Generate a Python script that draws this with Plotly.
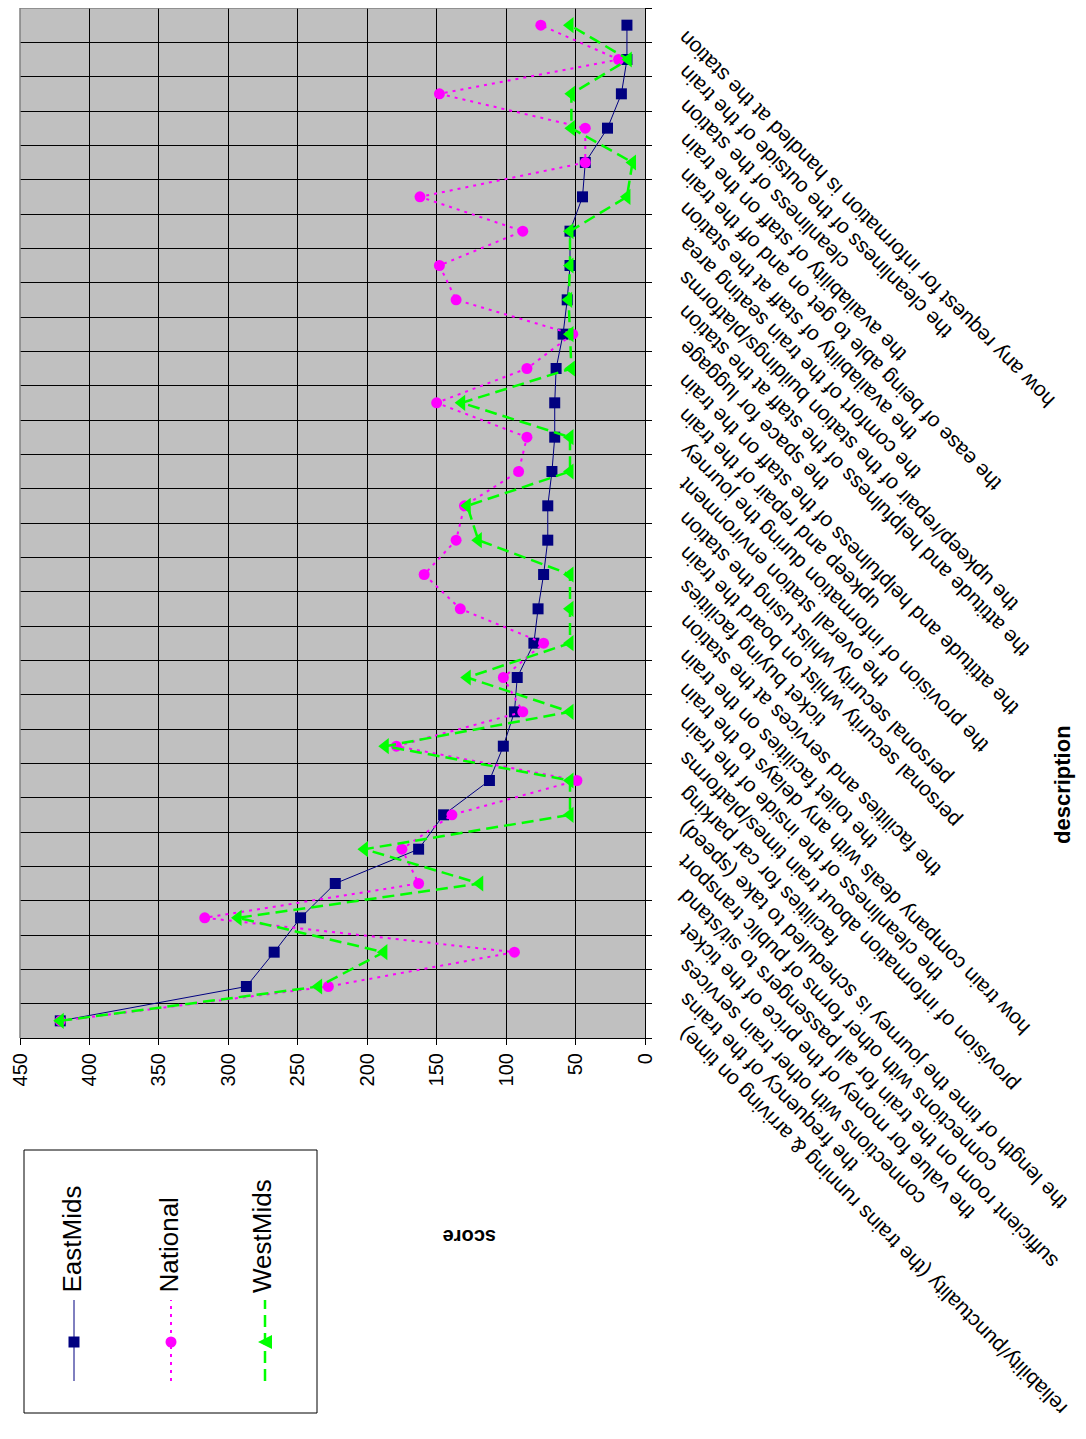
import plotly.graph_objects as go

# ---------------- data ----------------
categories = [
    "reliability/punctuality (the trains running & arriving on time)",
    "the frequency of the trains",
    "connections with other train services",
    "the value for money of the price of the ticket",
    "sufficient room on the train for all passengers to sit/stand",
    "connections with other forms of public transport",
    "the length of time the journey is scheduled to take (speed)",
    "facilities for car parking",
    "provision of information about train times/platforms",
    "the cleanliness of the inside of the train",
    "how train company deals with any delays to the train",
    "the toilet facilities on the train",
    "the facilities and services at the station",
    "ticket buying facilities",
    "personal security whilst on board the train",
    "personal security whilst using the station",
    "the overall station environment",
    "the provision of information during the journey",
    "upkeep and repair of the train",
    "the attitude and helpfulness of the staff on the train",
    "the space for luggage",
    "the attitude and helpfulness of the staff at the station",
    "the upkeep/repair of the station buildings/platforms",
    "the comfort of the train seating area",
    "the availability of staff at the station",
    "the ease of being able to get on and off the train",
    "the availability of staff on the train",
    "cleanliness of the station",
    "the cleanliness of the outside of the train",
    "how any request for information is handled at the station",
]
eastmids = [421, 287, 267, 248, 223, 163, 145, 112, 102, 94, 92, 80, 77, 73, 70,
            70, 67, 65, 65, 64, 59, 56, 54, 54, 45, 43, 27, 17, 13, 13]
national = [421, 228, 94, 317, 163, 175, 139, 49, 179, 88, 102, 73, 133, 159, 136,
            130, 91, 85, 150, 85, 52, 136, 148, 88, 162, 43, 43, 148, 19, 75]
westmids = [421, 235, 188, 293, 119, 202, 54, 54, 187, 54, 128, 54, 54, 54, 120,
            128, 54, 54, 132, 53, 54, 55, 54, 54, 13, 9, 53, 53, 12, 54]
score_ticks = [0, 50, 100, 150, 200, 250, 300, 350, 400, 450]
series_names = ["EastMids", "National", "WestMids"]

# ---------------- layout geometry (page pixels; page has an 8px body margin) ----------------
OFF = 8
W, H = 1086 - OFF, 1439 - OFF
PL, PR, PT, PB = 20, 645, 8, 1038          # plot area edges in page pixels
FONT = "Arial, Liberation Sans, sans-serif"


def px2x(px):
    return (px - PL) / (PR - PL)


def px2y(py):
    return (PB - py) / (PB - PT)


styles = [
    dict(color="#000080", width=1, dash="solid", symbol="square", msize=11),
    dict(color="#FF00FF", width=2, dash="3px,5px", symbol="circle", msize=11),
    dict(color="#00FF00", width=2.5, dash="12px,6px", symbol="triangle-left", msize=14),
]

fig = go.Figure()
for name, vals, st in zip(series_names, [eastmids, national, westmids], styles):
    fig.add_trace(go.Scatter(
        x=vals, y=categories, mode="lines+markers", name=name, showlegend=False,
        line=dict(color=st["color"], width=st["width"], dash=st["dash"]),
        marker=dict(symbol=st["symbol"], size=st["msize"], color=st["color"],
                    line=dict(width=0)),
        cliponaxis=False,
    ))

annotations = []
for lab in categories:
    annotations.append(dict(
        x=px2x(671), xref="paper", y=lab, yref="y", text=lab, textangle=-135,
        xanchor="left", yanchor="top", showarrow=False, yshift=1,
        font=dict(size=21, family=FONT, color="black"),
    ))

annotations.append(dict(x=px2x(470), y=px2y(1237), xref="paper", yref="paper",
                        text="<b>score</b>", textangle=180, showarrow=False,
                        xanchor="center", yanchor="middle",
                        font=dict(size=20, family=FONT, color="black")))
annotations.append(dict(x=px2x(1062), y=px2y(785), xref="paper", yref="paper",
                        text="<b>description</b>", textangle=-90, showarrow=False,
                        xanchor="center", yanchor="middle",
                        font=dict(size=22, family=FONT, color="black")))

shapes = []
# plot-area gray border (left/top)
shapes.append(dict(type="line", xref="paper", yref="paper", x0=0, x1=0, y0=0, y1=1,
                   line=dict(color="#808080", width=1.5), layer="above"))
shapes.append(dict(type="line", xref="paper", yref="paper", x0=0, x1=1, y0=1, y1=1,
                   line=dict(color="#808080", width=1.5), layer="above"))

# custom rotated legend
shapes.append(dict(type="rect", xref="paper", yref="paper",
                   x0=px2x(24), x1=px2x(317), y0=px2y(1413), y1=px2y(1150),
                   line=dict(color="black", width=1), fillcolor="white"))
leg_x = [74, 171, 265]
for name, st, lx in zip(series_names, styles, leg_x):
    shapes.append(dict(type="line", xref="paper", yref="paper",
                       x0=px2x(lx), x1=px2x(lx), y0=px2y(1381), y1=px2y(1300),
                       line=dict(color=st["color"], width=st["width"], dash=st["dash"])))
    my = 1342
    if st["symbol"] == "square":
        s = 5.5
        shapes.append(dict(type="rect", xref="paper", yref="paper",
                           x0=px2x(lx - s), x1=px2x(lx + s), y0=px2y(my + s), y1=px2y(my - s),
                           line=dict(width=0), fillcolor=st["color"]))
    elif st["symbol"] == "circle":
        s = 5.5
        shapes.append(dict(type="circle", xref="paper", yref="paper",
                           x0=px2x(lx - s), x1=px2x(lx + s), y0=px2y(my + s), y1=px2y(my - s),
                           line=dict(width=0), fillcolor=st["color"]))
    else:
        path = "M {:.5f},{:.5f} L {:.5f},{:.5f} L {:.5f},{:.5f} Z".format(
            px2x(lx - 7), px2y(my), px2x(lx + 7), px2y(my - 7), px2x(lx + 7), px2y(my + 7))
        shapes.append(dict(type="path", xref="paper", yref="paper", path=path,
                           line=dict(width=0), fillcolor=st["color"]))
    annotations.append(dict(x=px2x(lx - 3), y=px2y(1295), xref="paper", yref="paper",
                            text=name, textangle=-90, showarrow=False,
                            xanchor="center", yanchor="bottom",
                            font=dict(size=26, family=FONT, color="black")))

fig.update_layout(
    width=W, height=H,
    margin=dict(l=PL - OFF, r=W - (PR - OFF), t=PT - OFF, b=H - (PB - OFF), pad=0),
    paper_bgcolor="white", plot_bgcolor="#C0C0C0",
    font=dict(family=FONT, color="black"),
    showlegend=False,
    annotations=annotations,
    shapes=shapes,
    xaxis=dict(range=[450, 0], tickvals=score_ticks, tickangle=-90,
               ticks="outside", ticklen=6, tickcolor="black",
               showgrid=True, gridcolor="black", gridwidth=1,
               showline=True, linecolor="black", linewidth=1, zeroline=False,
               tickfont=dict(size=20, family=FONT, color="black")),
    yaxis=dict(type="category", categoryorder="array", categoryarray=categories,
               range=[-0.5, len(categories) - 0.5], side="right",
               showticklabels=False, ticks="outside", ticklen=6, tickcolor="black",
               tickson="boundaries", showgrid=True, gridcolor="black", gridwidth=1,
               showline=True, linecolor="black", linewidth=1, zeroline=False),
)

fig.write_html("out.html", config={"displayModeBar": False})
